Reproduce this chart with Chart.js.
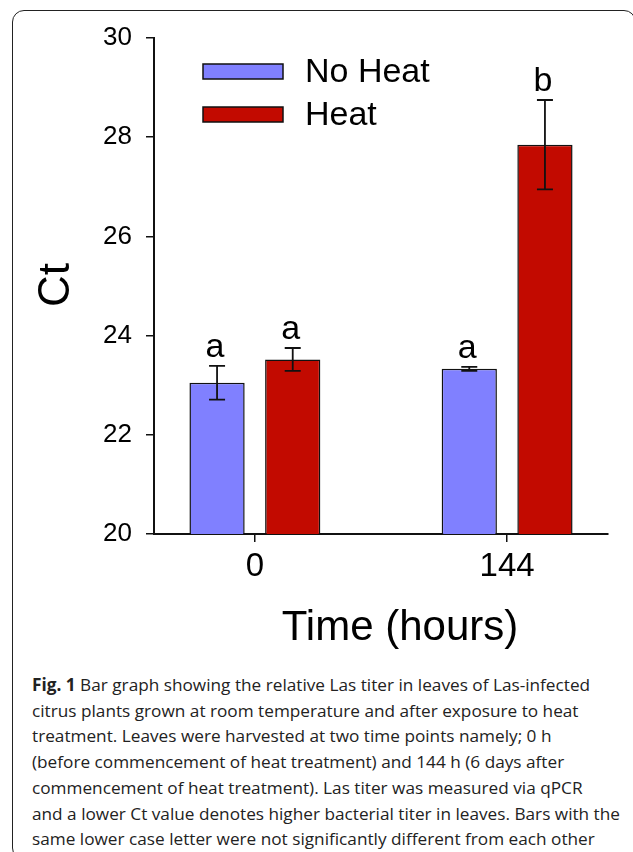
<!DOCTYPE html>
<html>
<head>
<meta charset="utf-8">
<script src="https://cdn.jsdelivr.net/npm/chart.js@4.4.1/dist/chart.umd.min.js"></script>
<style>
  html, body { margin: 0; padding: 0; background: #fff; }
  body { width: 633px; height: 852px; position: relative; overflow: hidden; }
  #frame { position: absolute; left: 12px; top: 10px; width: 624px; height: 850px;
           border: 1.5px solid #222; border-radius: 12px; box-sizing: border-box; }
  #wrap { position: absolute; left: 0; top: 0; width: 633px; height: 660px; }
  #caption { position: absolute; left: 32px; top: 672px; color: #222;
             font-family: "Open Sans", sans-serif; white-space: nowrap;
             transform-origin: 0 0; font-size: 17px; }
  #caption div { line-height: 25.7px; }
</style>
</head>
<body>
<div id="frame"></div>
<div id="wrap"><canvas id="c" width="633" height="660"></canvas></div>
<div id="caption">
  <div><b>Fig. 1</b> Bar graph showing the relative Las titer in leaves of Las-infected</div>
  <div>citrus plants grown at room temperature and after exposure to heat</div>
  <div>treatment. Leaves were harvested at two time points namely; 0 h</div>
  <div>(before commencement of heat treatment) and 144 h (6 days after</div>
  <div>commencement of heat treatment). Las titer was measured via qPCR</div>
  <div>and a lower Ct value denotes higher bacterial titer in leaves. Bars with the</div>
  <div>same lower case letter were not significantly different from each other</div>
</div>
<script>
// ---- data ----
const categories = ['0', '144'];
const seriesNames = ['No Heat', 'Heat'];
const noHeat = [23.05, 23.33];
const heat = [23.52, 27.85];
const noHeatErr = [0.34, 0.04];
const heatErr = [0.23, 0.90];
const noHeatLetters = ['a', 'a'];
const heatLetters = ['a', 'b'];
const yTicks = [20, 22, 24, 26, 28, 30];
const xTitle = 'Time (hours)';
const yTitle = 'Ct';

const FONT = '"Liberation Sans", Arial, sans-serif';
const colors = ['#8080FF', '#C20A00'];
const errs = [noHeatErr, heatErr];
const letters = [noHeatLetters, heatLetters];

const annot = {
  id: 'annot',
  afterDatasetsDraw(chart) {
    const ctx = chart.ctx;
    const ys = chart.scales.y;
    chart.data.datasets.forEach((ds, di) => {
      const meta = chart.getDatasetMeta(di);
      meta.data.forEach((bar, i) => {
        const v = ds.data[i].y, e = errs[di][i];
        const yt = ys.getPixelForValue(v + e), yb = ys.getPixelForValue(v - e);
        ctx.save();
        ctx.strokeStyle = '#111';
        ctx.lineWidth = 1.8;
        ctx.beginPath();
        ctx.moveTo(bar.x, yt); ctx.lineTo(bar.x, yb);
        ctx.moveTo(bar.x - 8, yt); ctx.lineTo(bar.x + 8, yt);
        ctx.moveTo(bar.x - 8, yb); ctx.lineTo(bar.x + 8, yb);
        ctx.stroke();
        ctx.fillStyle = '#000';
        ctx.font = '34px ' + FONT;
        ctx.textAlign = 'center';
        ctx.textBaseline = 'alphabetic';
        ctx.fillText(letters[di][i], bar.x - 2, yt - 9);
        ctx.restore();
      });
    });
    // legend
    const ca = chart.chartArea;
    ctx.save();
    chart.data.datasets.forEach((ds, di) => {
      const bx = ca.left + 49, by = ca.top + 26 + di * 43;
      ctx.fillStyle = ds.backgroundColor;
      ctx.fillRect(bx, by, 80, 15);
      ctx.strokeStyle = '#111';
      ctx.lineWidth = 1.5;
      ctx.strokeRect(bx, by, 80, 15);
      ctx.fillStyle = '#000';
      ctx.font = '34px ' + FONT;
      ctx.textAlign = 'left';
      ctx.textBaseline = 'middle';
      ctx.fillText(ds.label, bx + 102, by + 9);
    });
    // axis titles
    ctx.font = '42px ' + FONT;
    ctx.textAlign = 'center';
    ctx.textBaseline = 'middle';
    ctx.fillText(xTitle, 400, 628);
    ctx.translate(57, 285);
    ctx.rotate(-Math.PI / 2);
    ctx.font = '44px ' + FONT;
    ctx.fillText(yTitle, 0, 0);
    ctx.restore();
  }
};

new Chart(document.getElementById('c'), {
  type: 'bar',
  data: {
    datasets: [
      { label: seriesNames[0], data: noHeat.map((v, i) => ({ x: i, y: v })),
        backgroundColor: colors[0], borderColor: '#111', borderWidth: 1.5, borderSkipped: false },
      { label: seriesNames[1], data: heat.map((v, i) => ({ x: i, y: v })),
        backgroundColor: colors[1], borderColor: '#111', borderWidth: 1.5, borderSkipped: false }
    ]
  },
  options: {
    responsive: false,
    animation: false,
    events: [],
    categoryPercentage: 0.6,
    barPercentage: 0.73,
    layout: { padding: { left: 0, right: 25, top: 38, bottom: 0 } },
    plugins: { legend: { display: false }, tooltip: { enabled: false } },
    scales: {
      x: {
        type: 'linear', min: -0.4, max: 1.4, offset: false,
        afterBuildTicks(s) { s.ticks = categories.map((c, i) => ({ value: i })); },
        afterFit(s) { s.height = 126; },
        ticks: { callback: v => categories[v], color: '#000', padding: 5,
                 font: { size: 33, family: FONT } },
        grid: { offset: false, drawOnChartArea: false, drawTicks: true, tickLength: 8, color: '#111', lineWidth: 1.5 },
        border: { display: true, color: '#111', width: 2 }
      },
      y: {
        min: 20, max: 30,
        afterBuildTicks(s) { s.ticks = yTicks.map(v => ({ value: v })); },
        afterFit(s) { s.width = 154; },
        ticks: { color: '#000', padding: 14, font: { size: 26, family: FONT } },
        grid: { drawOnChartArea: false, drawTicks: true, tickLength: 8, color: '#111', lineWidth: 1.5 },
        border: { display: true, color: '#111', width: 2 }
      }
    }
  },
  plugins: [annot]
});

// fit caption width to reference line width
(function () {
  const cap = document.getElementById('caption');
  const first = cap.querySelector('div');
  const r = first.scrollWidth;
  const target = 588;
  cap.style.transform = 'scaleX(' + (target / r).toFixed(4) + ')';
})();
</script>
</body>
</html>
